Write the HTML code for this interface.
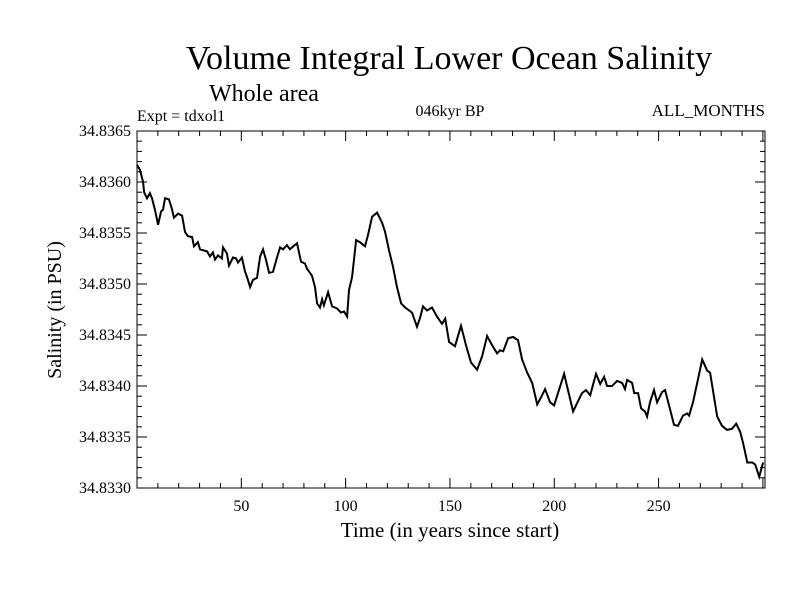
<!DOCTYPE html>
<html><head><meta charset="utf-8"><style>
body{margin:0;background:#fff;}
svg text{font-family:"Liberation Serif",serif;fill:#000;}
</style></head><body>
<svg id="chart" width="800" height="600" viewBox="0 0 800 600">
<rect width="800" height="600" fill="#fff"/>
<text x="449" y="69" font-size="34" text-anchor="middle">Volume Integral Lower Ocean Salinity</text>
<text x="264" y="101" font-size="24" text-anchor="middle">Whole area</text>
<text x="137" y="121" font-size="16">Expt = tdxol1</text>
<text x="450" y="116" font-size="16" text-anchor="middle">046kyr BP</text>
<text x="765" y="116" font-size="17" text-anchor="end">ALL_MONTHS</text>
<text x="450" y="537" font-size="21" text-anchor="middle">Time (in years since start)</text>
<text transform="translate(61,310) rotate(-90)" font-size="20" text-anchor="middle">Salinity (in PSU)</text>
<g id="axes"></g>
<path id="line" fill="none" stroke="#000" stroke-width="2"/>
<rect x="137" y="131" width="628" height="357" fill="none" stroke="#000" stroke-width="1"/>
</svg>
<script>
const years=[0,1.4,2.9,3.4,4.8,6.2,7.2,8.6,10.1,11.5,12.5,13.4,15.3,16.8,17.7,19.7,21.6,23.0,24.4,26.4,27.3,29.2,30.2,33.6,35.0,36.4,37.4,38.8,40.7,41.2,43.1,44.1,46.0,47.5,48.4,50.3,51.8,52.7,54.2,55.6,57.5,59.0,60.4,61.8,63.3,65.2,67.1,68.6,70.0,71.9,73.3,76.7,78.6,80.5,81.5,83.9,85.3,86.3,87.7,88.7,89.6,91.6,93.5,95.9,97.8,99.2,100.7,101.6,103.1,105.0,106.9,109.3,110.7,112.7,115.1,117.5,118.9,120.8,122.7,124.6,126.6,128.5,131.8,134.2,135.7,137.1,139.0,141.4,143.8,146.2,147.7,149.6,152.4,155.3,157.7,160.1,163.0,165.4,167.8,170.2,172.6,174.0,175.5,177.9,180.3,182.6,184.6,187.0,189.4,191.8,193.7,195.6,198.0,199.9,201.8,204.7,206.6,209.0,210.9,213.3,215.2,217.2,220.0,222.0,223.9,225.3,227.7,230.1,232.5,233.9,234.9,237.3,238.3,240.2,241.6,243.5,244.5,245.9,247.8,249.3,251.7,253.1,255.5,257.4,259.3,261.7,263.7,264.6,266.5,268.5,270.9,273.3,274.7,278.1,280.4,282.8,285.2,287.2,289.1,290.5,292.5,294.9,296.3,298.2,300.1];
const salinity=[34.83617,34.83612,34.83600,34.83590,34.83584,34.83589,34.83584,34.83573,34.83558,34.83571,34.83573,34.83584,34.83583,34.83573,34.83565,34.83569,34.83567,34.83551,34.83547,34.83546,34.83537,34.83541,34.83534,34.83532,34.83527,34.83531,34.83524,34.83528,34.83525,34.83536,34.83530,34.83518,34.83526,34.83525,34.83521,34.83526,34.83512,34.83507,34.83497,34.83504,34.83506,34.83527,34.83534,34.83524,34.83511,34.83512,34.83526,34.83536,34.83534,34.83538,34.83534,34.83540,34.83522,34.83520,34.83515,34.83508,34.83497,34.83481,34.83477,34.83485,34.83479,34.83492,34.83478,34.83476,34.83472,34.83473,34.83468,34.83494,34.83507,34.83543,34.83541,34.83537,34.83548,34.83566,34.83570,34.83560,34.83551,34.83533,34.83517,34.83497,34.83481,34.83477,34.83472,34.83458,34.83467,34.83478,34.83474,34.83477,34.83468,34.83461,34.83466,34.83443,34.83439,34.83459,34.83440,34.83423,34.83416,34.83429,34.83449,34.83440,34.83432,34.83435,34.83434,34.83447,34.83448,34.83445,34.83426,34.83413,34.83403,34.83382,34.83389,34.83397,34.83384,34.83381,34.83393,34.83412,34.83396,34.83375,34.83383,34.83393,34.83396,34.83391,34.83412,34.83402,34.83409,34.83400,34.83400,34.83405,34.83403,34.83397,34.83406,34.83403,34.83393,34.83393,34.83378,34.83375,34.83370,34.83384,34.83396,34.83384,34.83394,34.83396,34.83377,34.83362,34.83361,34.83371,34.83373,34.83371,34.83384,34.83403,34.83426,34.83415,34.83413,34.83370,34.83361,34.83357,34.83358,34.83363,34.83355,34.83344,34.83325,34.83325,34.83323,34.83311,34.83325];
const xTicks=[50,100,150,200,250];
const yTicks=["34.8330","34.8335","34.8340","34.8345","34.8350","34.8355","34.8360","34.8365"];
const X0=137,X1=765,Y0=488,Y1=131,XMIN=0,XMAX=301,YMIN=34.8330,YMAX=34.8365;
const xs=v=>X0+(v-XMIN)/(XMAX-XMIN)*(X1-X0);
const ys=v=>Y0-(v-YMIN)/(YMAX-YMIN)*(Y0-Y1);
const NS="http://www.w3.org/2000/svg";
const ax=document.getElementById('axes');
function mk(t,a){const e=document.createElementNS(NS,t);for(const k in a)e.setAttribute(k,a[k]);ax.appendChild(e);return e;}
for(let v=10;v<XMAX;v+=10){
  const x=xs(v),len=(v%50===0)?10:5;
  const t1=mk('line',{x1:x,x2:x,y1:Y0,y2:Y0-len,stroke:'#000'});
  
  
  const t2=mk('line',{x1:x,x2:x,y1:Y1,y2:Y1+len,stroke:'#000'});
  
  
}
xTicks.forEach(v=>{
  const t=mk('text',{x:xs(v),y:Y0+23,'font-size':16,'text-anchor':'middle'});t.textContent=v;
  
  
});
for(let i=1;i<35;i++){
  const v=YMIN+i*0.0001,y=ys(v),len=(i%5===0)?10:5;
  const t1=mk('line',{x1:X0,x2:X0+len,y1:y,y2:y,stroke:'#000'});
  
  
  const t2=mk('line',{x1:X1,x2:X1-len,y1:y,y2:y,stroke:'#000'});
  
  
}
yTicks.forEach(s=>{
  const t=mk('text',{x:X0-6,y:ys(parseFloat(s))+5,'font-size':16,'text-anchor':'end'});t.textContent=s;
  
  
});
document.getElementById('line').setAttribute('d',years.map((yr,i)=>(i?'L':'M')+xs(yr).toFixed(1)+','+ys(salinity[i]).toFixed(1)).join(''));
</script>
</body></html>
